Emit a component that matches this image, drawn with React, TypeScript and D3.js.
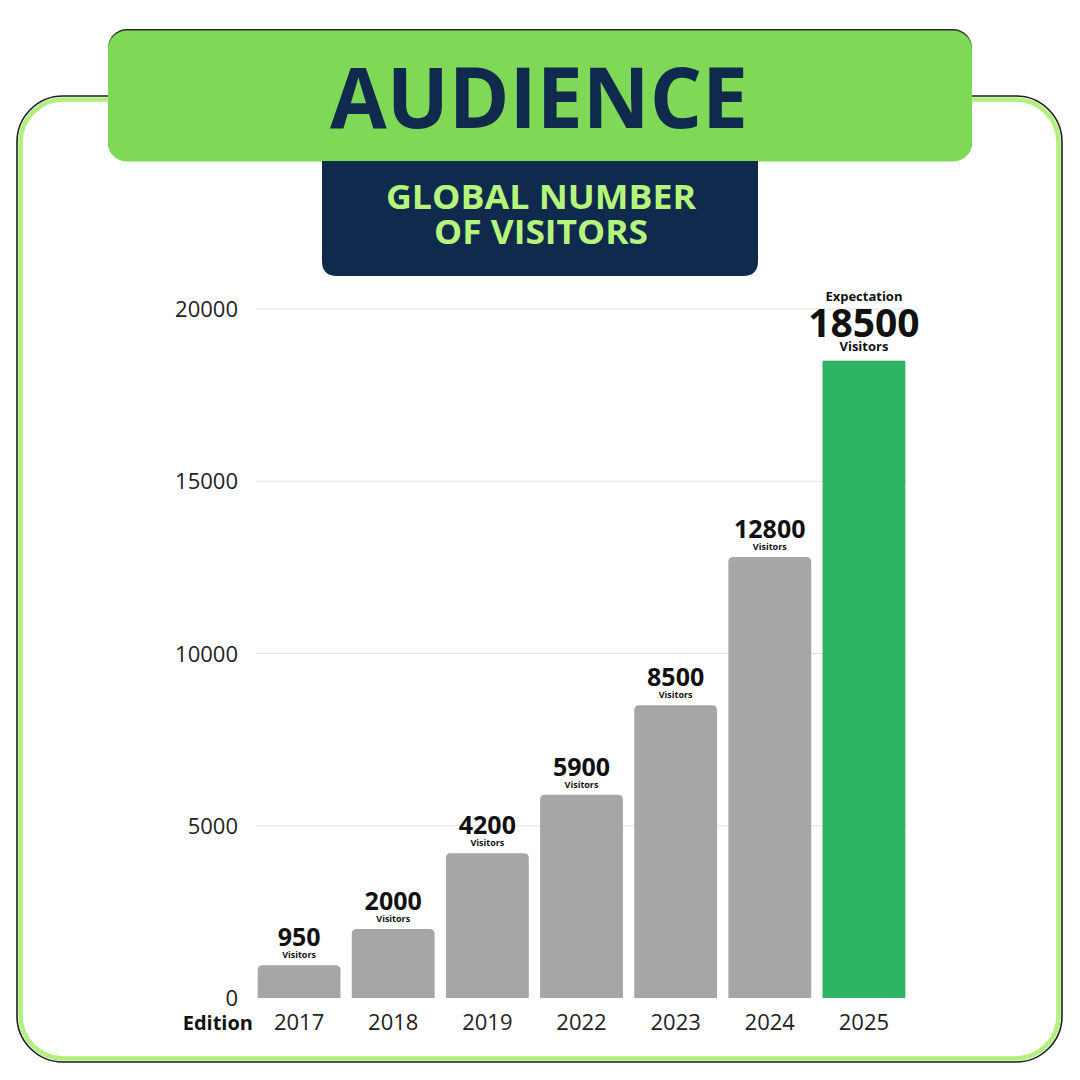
import React from "react";
import * as d3 from "d3";

const editions: string[] = ["2017", "2018", "2019", "2022", "2023", "2024", "2025"];
const visitors: number[] = [950, 2000, 4200, 5900, 8500, 12800, 18500];
const yTicks: number[] = [0, 5000, 10000, 15000, 20000];
const expectedEdition = "2025";

const W = 1080;
const H = 1080;
const FONT = "'Open Sans', 'Noto Sans', sans-serif";
const NAVY = "#0f2a4d";
const GREEN_HEAD = "#7fd957";
const GREEN_TEXT = "#b6f57c";
const GRAY_BAR = "#a6a6a6";
const GREEN_BAR = "#2eb563";

// rounded top corners for a bar
function topRoundedBar(x: number, y: number, w: number, h: number, r: number): string {
  const rr = Math.min(r, h, w / 2);
  return `M${x},${y + h}V${y + rr}Q${x},${y} ${x + rr},${y}H${x + w - rr}Q${x + w},${y} ${x + w},${y + rr}V${y + h}Z`;
}

// rectangle with only bottom corners rounded
function bottomRounded(x: number, y: number, w: number, h: number, r: number): string {
  return `M${x},${y}H${x + w}V${y + h - r}Q${x + w},${y + h} ${x + w - r},${y + h}H${x + r}Q${x},${y + h} ${x},${y + h - r}Z`;
}

export default function App() {
  const x = d3.scaleBand<string>().domain(editions).range([252, 911]).paddingInner(0.12).paddingOuter(0.06);
  const y = d3.scaleLinear().domain([0, 20000]).range([998, 309]);
  const bw = x.bandwidth();

  return (
    <svg width={W} height={H} viewBox={`0 0 ${W} ${H}`} style={{ display: "block", position: "absolute", left: 0, top: 0 }}>
      <rect width={W} height={H} fill="#ffffff" />

      {/* outer frame */}
      <rect x={17} y={96} width={1045} height={966} rx={46} fill="#ffffff" stroke="#1e1e1e" strokeWidth={1.6} />
      <rect x={20.5} y={99.5} width={1038} height={959} rx={43} fill="none" stroke="#b2ef7e" strokeWidth={4.5} />

      {/* title banner */}
      <rect x={108} y={29} width={864} height={132} rx={19} fill="#2a2a2a" />
      <rect x={108} y={30.5} width={864} height={131} rx={19} fill={GREEN_HEAD} />
      <text x={539} y={128} textAnchor="middle" fontFamily={FONT} fontWeight={700} fontSize={84}
        fill={NAVY} textLength={418} lengthAdjust="spacingAndGlyphs">AUDIENCE</text>

      {/* subtitle box */}
      <path d={bottomRounded(322, 161, 436, 115, 15)} fill={NAVY} />
      <text x={541} y={209} textAnchor="middle" fontFamily={FONT} fontWeight={700} fontSize={34}
        fill={GREEN_TEXT} textLength={310} lengthAdjust="spacingAndGlyphs">GLOBAL NUMBER</text>
      <text x={541} y={244} textAnchor="middle" fontFamily={FONT} fontWeight={700} fontSize={34}
        fill={GREEN_TEXT} textLength={214} lengthAdjust="spacingAndGlyphs">OF VISITORS</text>

      {/* grid and y axis */}
      {yTicks.map((t) => (
        <g key={t}>
          {t > 0 && <line x1={256} x2={907} y1={y(t)} y2={y(t)} stroke="#e2e2e2" strokeWidth={1.2} />}
          <text x={238} y={y(t) + 8} textAnchor="end" fontFamily={FONT} fontSize={22} fill="#222">{t}</text>
        </g>
      ))}

      {/* bars */}
      {editions.map((e, i) => {
        const v = visitors[i];
        const bx = x(e)!;
        const top = y(v);
        const h = y(0) - top;
        const cx = bx + bw / 2;
        if (e === expectedEdition) {
          return (
            <g key={e}>
              <rect x={bx} y={top} width={bw} height={h} fill={GREEN_BAR} />
              <text x={cx} y={top - 60} textAnchor="middle" fontFamily={FONT} fontWeight={700} fontSize={13} fill="#111">Expectation</text>
              <text x={cx} y={top - 24} textAnchor="middle" fontFamily={FONT} fontWeight={700} fontSize={39} fill="#111">{v}</text>
              <text x={cx} y={top - 10} textAnchor="middle" fontFamily={FONT} fontWeight={700} fontSize={13} fill="#111">Visitors</text>
            </g>
          );
        }
        return (
          <g key={e}>
            <path d={topRoundedBar(bx, top, bw, h, 5)} fill={GRAY_BAR} />
            <text x={cx} y={top - 19} textAnchor="middle" fontFamily={FONT} fontWeight={700} fontSize={25} fill="#111">{v}</text>
            <text x={cx} y={top - 7} textAnchor="middle" fontFamily={FONT} fontWeight={700} fontSize={9} fill="#111">Visitors</text>
          </g>
        );
      })}

      {/* x axis labels */}
      <text x={253} y={1030} textAnchor="end" fontFamily={FONT} fontWeight={700} fontSize={20} fill="#111">Edition</text>
      {editions.map((e) => (
        <text key={e} x={x(e)! + bw / 2} y={1030} textAnchor="middle" fontFamily={FONT} fontSize={22} fill="#222">{e}</text>
      ))}
    </svg>
  );
}
